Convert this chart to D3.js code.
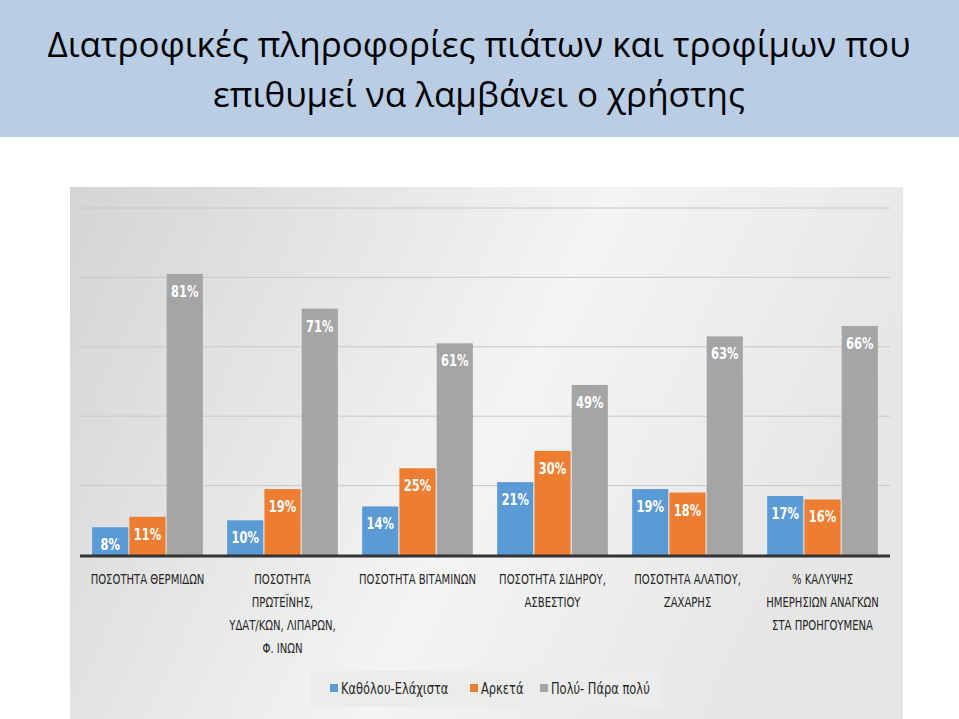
<!DOCTYPE html>
<html><head><meta charset="utf-8">
<script src="https://cdn.jsdelivr.net/npm/d3@7"></script>
<style>
body{margin:0;background:#fff}
svg text{font-family:"DejaVu Sans Condensed","Liberation Sans Narrow","Open Sans",sans-serif}
</style></head>
<body><svg id="c" width="959" height="719"></svg>
<script>
var titleLines = ["Διατροφικές πληροφορίες πιάτων και τροφίμων που", "επιθυμεί να λαμβάνει ο χρήστης"]
var categories = [
  ["ΠΟΣΟΤΗΤΑ ΘΕΡΜΙΔΩΝ"],
  ["ΠΟΣΟΤΗΤΑ", "ΠΡΩΤΕΪΝΗΣ,", "ΥΔΑΤ/ΚΩΝ, ΛΙΠΑΡΩΝ,", "Φ. ΙΝΩΝ"],
  ["ΠΟΣΟΤΗΤΑ ΒΙΤΑΜΙΝΩΝ"],
  ["ΠΟΣΟΤΗΤΑ ΣΙΔΗΡΟΥ,", "ΑΣΒΕΣΤΙΟΥ"],
  ["ΠΟΣΟΤΗΤΑ ΑΛΑΤΙΟΥ,", "ΖΑΧΑΡΗΣ"],
  ["% ΚΑΛΥΨΗΣ", "ΗΜΕΡΗΣΙΩΝ ΑΝΑΓΚΩΝ", "ΣΤΑ ΠΡΟΗΓΟΥΜΕΝΑ"]
]
var seriesNames = ["Καθόλου-Ελάχιστα", "Αρκετά", "Πολύ- Πάρα πολύ"]
var seriesColors = ["#5b9bd5", "#ed7d31", "#a5a5a5"]
var katholou = [8, 10, 14, 21, 19, 17]
var arketa = [11, 19, 25, 30, 18, 16]
var poly = [81, 71, 61, 49, 63, 66]
var yTicks = [0, 20, 40, 60, 80, 100]

var svg = d3.select('#c')
var values = [katholou, arketa, poly]

// title band
svg.append('rect').attr('x', 0).attr('y', 0).attr('width', 959).attr('height', 137).attr('fill', '#b9cde5')
svg.selectAll('.title').data(titleLines).join('text')
  .attr('x', 479).attr('y', (d, i) => 57 + i * 50)
  .attr('text-anchor', 'middle').attr('font-size', 35).attr('fill', '#000')
  .style('font-family', '"Open Sans",sans-serif')
  .text(d => d)

// chart background
var grad = svg.append('defs').append('linearGradient').attr('id', 'bg').attr('x1', 0).attr('y1', 0).attr('x2', 1).attr('y2', 0.3)
grad.append('stop').attr('offset', 0).attr('stop-color', '#d4d4d4')
grad.append('stop').attr('offset', 0.6).attr('stop-color', '#f4f4f4')
grad.append('stop').attr('offset', 1).attr('stop-color', '#e6e6e6')
svg.append('rect').attr('x', 70).attr('y', 187).attr('width', 833).attr('height', 532).attr('fill', 'url(#bg)')

var x0 = d3.scaleBand().domain(d3.range(categories.length)).range([80, 890]).paddingInner(0.18).paddingOuter(0.09)
var x1 = d3.scaleBand().domain(d3.range(3)).range([0, x0.bandwidth()]).paddingInner(0.03)
var y = d3.scaleLinear().domain([0, 100]).range([555, 208])

svg.append('g').selectAll('line').data(yTicks.slice(1)).join('line')
  .attr('x1', 80).attr('x2', 890).attr('y1', y).attr('y2', y)
  .attr('stroke', '#c8c8c8').attr('stroke-width', 1)

var groups = svg.append('g').selectAll('g').data(categories).join('g')
  .attr('transform', (d, i) => `translate(${x0(i)},0)`)
groups.each(function(c, i) {
  var g = d3.select(this)
  values.forEach((vals, s) => {
    var v = vals[i]
    g.append('rect').attr('x', x1(s)).attr('y', y(v)).attr('width', x1.bandwidth()).attr('height', y(0) - y(v))
      .attr('fill', seriesColors[s])
    g.append('text').attr('transform', `translate(${x1(s) + x1.bandwidth() / 2},${y(v) + 23}) scale(0.85,1)`)
      .attr('text-anchor', 'middle').attr('font-size', 15).attr('font-weight', 'bold').attr('fill', '#fff')
      .text(v + '%')
  })
  g.append('text').attr('transform', `translate(${x0.bandwidth() / 2},584) scale(0.8,1)`)
    .attr('text-anchor', 'middle').attr('font-size', 14).attr('fill', '#262626')
    .selectAll('tspan').data(c).join('tspan')
    .attr('x', 0).attr('dy', (d, k) => k ? 23 : 0).text(d => d)
})

svg.append('line').attr('x1', 80).attr('x2', 890).attr('y1', y(0) + 1).attr('y2', y(0) + 1)
  .attr('stroke', '#333').attr('stroke-width', 3)

// legend
var lg = svg.append('g')
lg.append('rect').attr('x', 310).attr('y', 671).attr('width', 352).attr('height', 36).attr('fill', '#ececec')
var lx = [330, 470, 540]
seriesNames.forEach((n, i) => {
  lg.append('rect').attr('x', lx[i]).attr('y', 684).attr('width', 8).attr('height', 8).attr('fill', seriesColors[i])
  lg.append('text').attr('transform', `translate(${lx[i] + 11},694) scale(0.85,1)`)
    .attr('font-size', 15).attr('fill', '#262626').text(n)
})
</script></body></html>
